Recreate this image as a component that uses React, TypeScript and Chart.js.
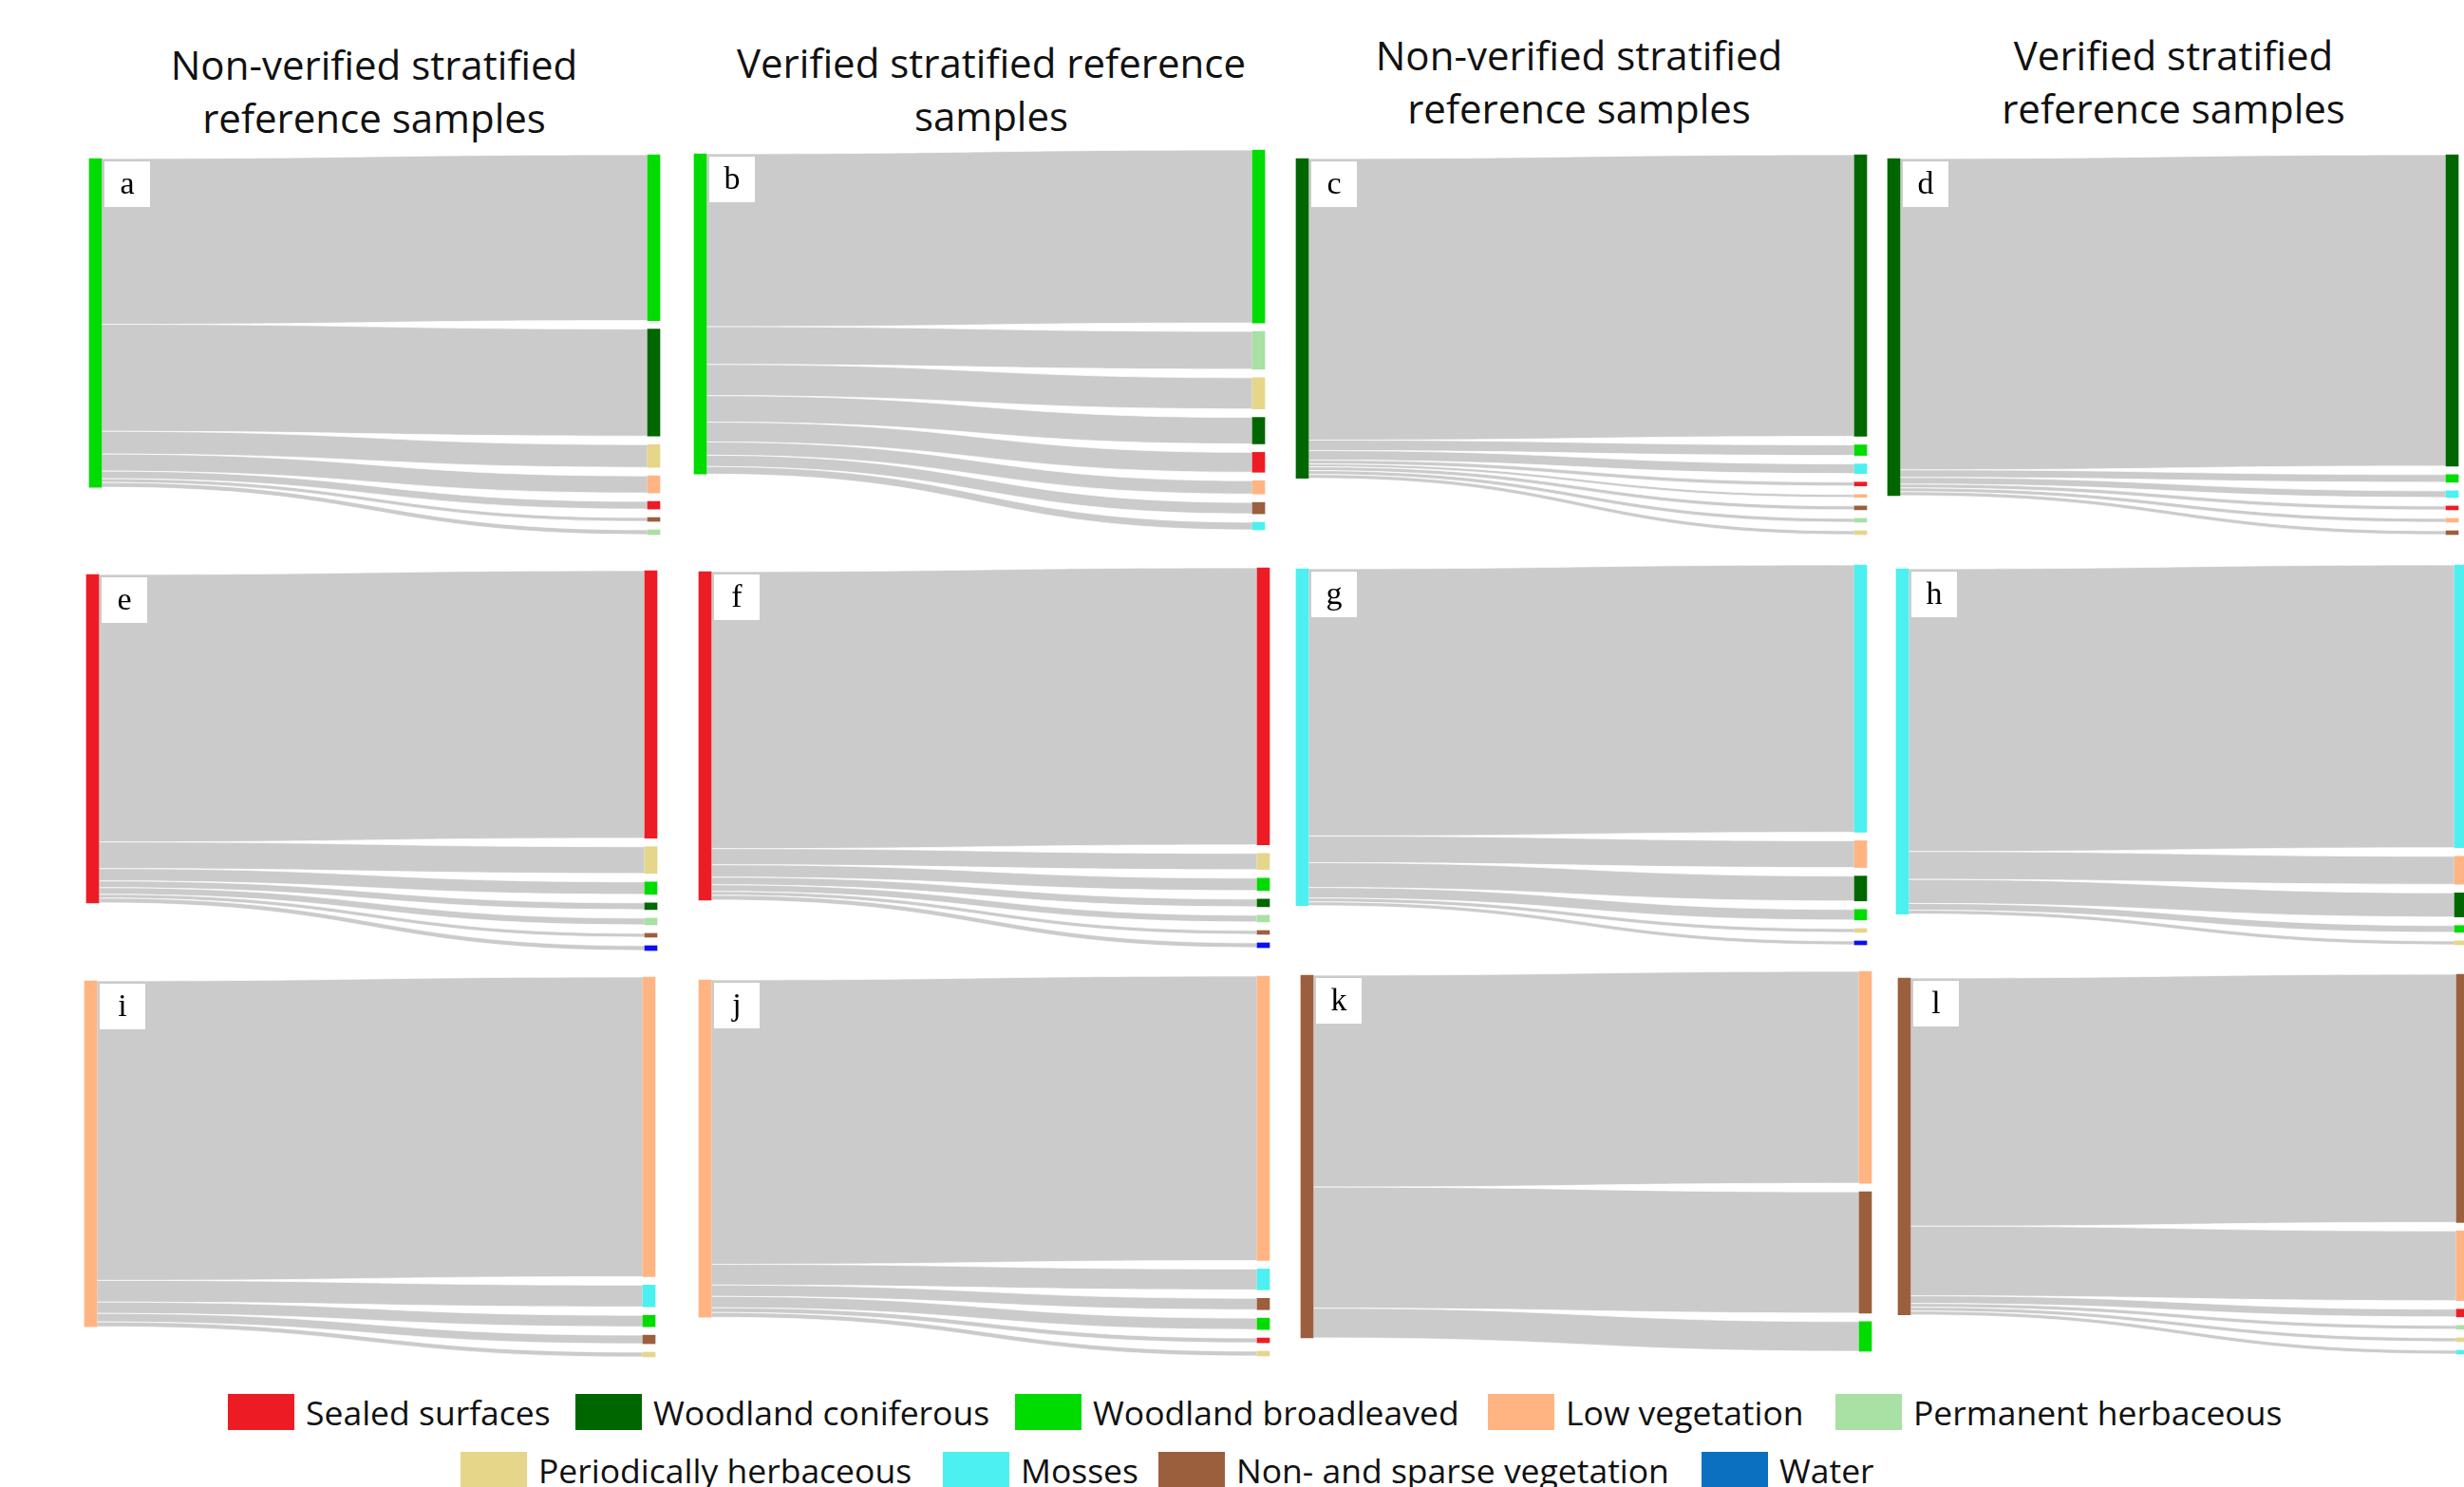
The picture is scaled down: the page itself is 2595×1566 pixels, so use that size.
import React, { useEffect, useRef } from 'react';
import { Chart, registerables } from 'chart.js';

Chart.register(...registerables);

// ---- Data ----
const CLASS_NAMES = [
  'Sealed surfaces',
  'Woodland coniferous',
  'Woodland broadleaved',
  'Low vegetation',
  'Permanent herbaceous',
  'Periodically herbaceous',
  'Mosses',
  'Non- and sparse vegetation',
  'Water',
];
const NODE_COLORS = ['#ed1c24', '#006700', '#00dc00', '#ffb482', '#a9e0a3', '#e6d68a', '#4cf0f0', '#9b5f3e', '#0a10f5'];
const LEGEND_COLORS = ['#ed1c24', '#006700', '#00dc00', '#ffb482', '#a9e0a3', '#e6d68a', '#4cf0f0', '#9b5f3e', '#0b70c0'];

const PANEL_LETTERS = ['a', 'b', 'c', 'd', 'e', 'f', 'g', 'h', 'i', 'j', 'k', 'l'];
// source class of each panel (index into CLASS_NAMES)
const PANEL_SOURCES = [2, 2, 1, 1, 0, 0, 6, 6, 3, 3, 7, 7];
// target classes of each panel, top to bottom
const PANEL_TARGETS = [
  [2, 1, 5, 3, 0, 7, 4],
  [2, 4, 5, 1, 0, 3, 7, 6],
  [1, 2, 6, 0, 3, 7, 4, 5],
  [1, 2, 6, 0, 3, 7],
  [0, 5, 2, 1, 4, 7, 8],
  [0, 5, 2, 1, 4, 7, 8],
  [6, 3, 1, 2, 5, 8],
  [6, 3, 1, 2, 5],
  [3, 6, 2, 7, 5],
  [3, 6, 7, 2, 0, 5],
  [3, 7, 2],
  [7, 3, 0, 4, 5, 6],
];
// flow values (share of samples, arbitrary units) matching PANEL_TARGETS
const PANEL_VALUES = [
  [175, 113, 24, 18, 8, 4, 5],
  [183, 40, 33, 28, 21, 14, 12, 8],
  [295, 11, 10, 4, 3, 4, 4, 4],
  [327, 8, 7, 4, 4, 4],
  [281, 28, 13, 7, 7, 4, 5],
  [291, 17, 13, 8, 7, 4, 5],
  [280, 28, 26, 11, 4, 4],
  [294, 29, 25, 7, 4],
  [317, 23, 12, 9, 5],
  [301, 22, 12, 12, 5, 5],
  [222, 127, 31],
  [260, 73, 8, 4, 4, 4],
];

const COLUMN_TITLES = [
  ['Non-verified stratified', 'reference samples'],
  ['Verified stratified reference', 'samples'],
  ['Non-verified stratified', 'reference samples'],
  ['Verified stratified', 'reference samples'],
];

// ---- Layout (page pixels) ----
const PANEL_LEFT = [94, 731, 1365, 1988, 91, 736, 1365, 1997, 89, 736, 1370, 1999];
const PANEL_TOP = [163, 158, 163, 163, 601, 598, 595, 595, 1029, 1028, 1023, 1026];
const PANEL_W = 601;
const PANEL_H = 400;
const NODE_W = 13;
const PAD = 12;
const NODE_GAP = 9;
const SRC_OFFSET = 4;
const FLOW_COLOR = '#cbcbcb';

const TITLE_X = [394, 1044, 1663, 2289];
const TITLE_Y = [68, 66, 58, 58];

const LEGEND_POS = [
  [240, 1487],
  [606, 1487],
  [1069, 1487],
  [1567, 1487],
  [1933, 1487],
  [485, 1548],
  [993, 1548],
  [1220, 1548],
  [1792, 1548],
];
const LEGEND_ORDER = [0, 1, 2, 3, 4, 5, 6, 7, 8];

const FONT = '"Open Sans", "Noto Sans", sans-serif';

function SankeyPanel({ idx }: { idx: number }) {
  const ref = useRef<HTMLCanvasElement | null>(null);
  useEffect(() => {
    const canvas = ref.current;
    if (!canvas) return;
    const targets = PANEL_TARGETS[idx];
    const values = PANEL_VALUES[idx];
    const src = PANEL_SOURCES[idx];
    const total = values.reduce((a, b) => a + b, 0);
    const yMax = total + NODE_GAP * (targets.length - 1);

    // node rectangles in value space
    const nodeData: { x: number; y: [number, number] }[] = [];
    const nodeColors: string[] = [];
    nodeData.push({ x: 0, y: [SRC_OFFSET, SRC_OFFSET + total] });
    nodeColors.push(NODE_COLORS[src]);
    const links: { s0: number; s1: number; t0: number; t1: number }[] = [];
    let ty = 0;
    let sy = SRC_OFFSET;
    targets.forEach((t, i) => {
      const v = values[i];
      nodeData.push({ x: 1, y: [ty, ty + v] });
      nodeColors.push(NODE_COLORS[t]);
      links.push({ s0: sy, s1: sy + v, t0: ty, t1: ty + v });
      sy += v;
      ty += v + NODE_GAP;
    });

    const flowPlugin = {
      id: 'flows',
      beforeDatasetsDraw(chart: any) {
        const { ctx } = chart;
        const xs = chart.scales.x;
        const ys = chart.scales.y;
        const xL = xs.getPixelForValue(0) + NODE_W / 2;
        const xR = xs.getPixelForValue(1) - NODE_W / 2;
        const xm = (xL + xR) / 2;
        ctx.save();
        links.forEach((l) => {
          const a0 = ys.getPixelForValue(l.s0);
          const a1 = ys.getPixelForValue(l.s1);
          const b0 = ys.getPixelForValue(l.t0);
          const b1 = ys.getPixelForValue(l.t1);
          ctx.beginPath();
          ctx.moveTo(xL, a0);
          ctx.bezierCurveTo(xm, a0, xm, b0, xR, b0);
          ctx.lineTo(xR, b1);
          ctx.bezierCurveTo(xm, b1, xm, a1, xL, a1);
          ctx.closePath();
          ctx.fillStyle = FLOW_COLOR;
          ctx.fill();
          ctx.strokeStyle = 'rgba(255,255,255,0.7)';
          ctx.lineWidth = 1;
          ctx.stroke();
        });
        ctx.restore();
      },
      afterDraw(chart: any) {
        const { ctx } = chart;
        const xs = chart.scales.x;
        const ys = chart.scales.y;
        const bx = xs.getPixelForValue(0) + NODE_W / 2 + 3;
        const by = ys.getPixelForValue(SRC_OFFSET) + 3;
        const size = 48;
        ctx.save();
        ctx.fillStyle = '#ffffff';
        ctx.fillRect(bx, by, size, size);
        ctx.fillStyle = '#000000';
        ctx.font = '34px "Liberation Serif", "DejaVu Serif", serif';
        ctx.textAlign = 'center';
        ctx.textBaseline = 'middle';
        ctx.fillText(PANEL_LETTERS[idx], bx + size / 2, by + size / 2 + 1);
        ctx.restore();
      },
    };

    const chart = new Chart(canvas, {
      type: 'bar',
      data: {
        datasets: [
          {
            data: nodeData as any,
            backgroundColor: nodeColors,
            borderWidth: 0,
            barThickness: NODE_W,
            clip: false as any,
          },
        ],
      },
      options: {
        animation: false,
        responsive: false,
        maintainAspectRatio: false,
        events: [],
        layout: {
          padding: { left: PAD + NODE_W / 2, right: PAD + NODE_W / 2, top: PAD, bottom: PAD },
        },
        scales: {
          x: { type: 'linear', min: 0, max: 1, offset: false, display: false },
          y: { type: 'linear', min: 0, max: yMax, reverse: true, display: false },
        },
        plugins: {
          legend: { display: false },
          tooltip: { enabled: false },
          title: { display: false },
        },
      },
      plugins: [flowPlugin],
    });
    return () => chart.destroy();
  }, [idx]);

  const w = PANEL_W + PAD * 2;
  const h = PANEL_H + PAD * 2;
  return (
    <canvas
      ref={ref}
      width={w}
      height={h}
      style={{
        position: 'absolute',
        left: PANEL_LEFT[idx] - PAD,
        top: PANEL_TOP[idx] - PAD,
        width: w,
        height: h,
      }}
    />
  );
}

export default function App() {
  useEffect(() => {
    document.body.style.margin = '0';
    document.body.style.background = '#ffffff';
  }, []);
  return (
    <div
      style={{
        position: 'relative',
        width: 2595,
        height: 1566,
        overflow: 'hidden',
        background: '#ffffff',
        fontFamily: FONT,
        color: '#111111',
      }}
    >
      {COLUMN_TITLES.map((lines, c) => (
        <div
          key={'t' + c}
          style={{
            position: 'absolute',
            left: TITLE_X[c] - 400,
            width: 800,
            top: TITLE_Y[c] - 28,
            textAlign: 'center',
            fontSize: 42,
            lineHeight: '56px',
            whiteSpace: 'nowrap',
          }}
        >
          {lines.map((l, i) => (
            <div key={i}>{l}</div>
          ))}
        </div>
      ))}
      {PANEL_LETTERS.map((_, i) => (
        <SankeyPanel key={i} idx={i} />
      ))}
      {LEGEND_ORDER.map((ci, i) => (
        <div
          key={'l' + i}
          style={{
            position: 'absolute',
            left: LEGEND_POS[i][0],
            top: LEGEND_POS[i][1] - 25,
            height: 50,
            display: 'flex',
            alignItems: 'center',
            whiteSpace: 'nowrap',
            fontSize: 35.5,
          }}
        >
          <div style={{ width: 70, height: 38, background: LEGEND_COLORS[ci], marginRight: 12 }} />
          <span>{CLASS_NAMES[ci]}</span>
        </div>
      ))}
    </div>
  );
}
